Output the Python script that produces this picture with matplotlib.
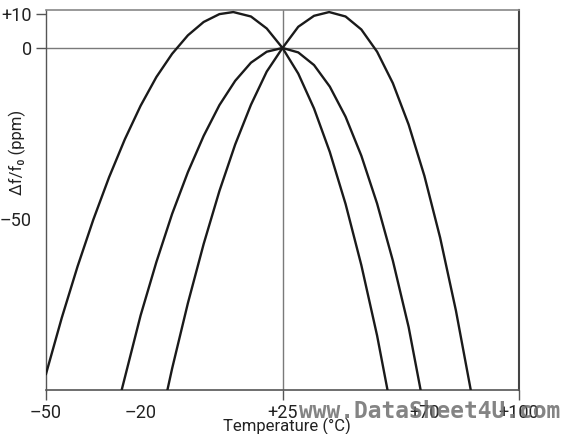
import matplotlib
matplotlib.use('Agg')
import matplotlib.pyplot as plt
from matplotlib import font_manager

names = {f.name for f in font_manager.fontManager.ttflist}
narrow = [n for n in ['Liberation Sans Narrow', 'DejaVu Sans Condensed'] if n in names]
plt.rcParams['font.family'] = narrow + ['Roboto', 'DejaVu Sans']
plt.rcParams['font.stretch'] = 'condensed'

# values (temperature in degC, deviation in ppm)
a_temp = [-50, -45, -40, -35, -30, -25, -20, -15, -10, -5, 0, 5, 9.4,
          15, 20, 25, 30, 35, 40, 45, 50, 55, 58.3]
a_ppm = [-95.3, -78.9, -63.9, -50.2, -37.8, -26.7, -16.9, -8.5, -1.7, 3.7, 7.6, 9.9, 10.5,
         9.2, 5.7, 0.0, -7.5, -17.7, -30.4, -45.6, -63.5, -84.1, -100.0]

b_temp = [-11.5, -10, -5, 0, 5, 10, 15, 20, 25, 30, 35, 39.8,
          45, 50, 55, 60, 65, 70, 75, 80, 84.7]
b_ppm = [-100.0, -93.7, -74.6, -57.3, -41.8, -28.2, -16.6, -6.9, 0.0, 6.2, 9.4, 10.5,
         9.2, 5.4, -1.1, -10.3, -22.4, -37.4, -55.5, -76.8, -100.0]

c_temp = [-26, -20, -15, -10, -5, 0, 5, 10, 15, 20, 25,
          30, 35, 40, 45, 50, 55, 60, 65, 68.8]
c_ppm = [-100.0, -78.2, -62.6, -48.5, -36.3, -25.7, -16.7, -9.6, -4.3, -1.1, 0.0,
         -1.3, -5.0, -11.3, -20.1, -31.5, -45.5, -62.2, -81.6, -100.0]

x_ticks = [-50, -20, 25, 70, 100]
x_labels = ['\u201350', '\u201320', '+25', '+70', '+100']
y_ticks = [10, 0, -50]
y_labels = ['+10', '0', '\u201350']

fig = plt.figure(figsize=(5.74, 4.34), dpi=100)
ax = fig.add_axes([46 / 574, 1 - 390 / 434, 473 / 574, 380 / 434])

ax.axhline(0, color='#7a7a7a', lw=1.0, zorder=1)
ax.axvline(25, color='#7a7a7a', lw=1.0, zorder=1)

for t, p in [(a_temp, a_ppm), (b_temp, b_ppm), (c_temp, c_ppm)]:
    ax.plot(t, p, color='#1a1a1a', lw=1.7, solid_joinstyle='round', zorder=3)

ax.set_xlim(-50, 100)
ax.set_ylim(-100, 11.1)

ax.set_xticks(x_ticks)
ax.set_xticklabels(x_labels, fontsize=13, color='#222222')
ax.set_yticks(y_ticks)
ax.set_yticklabels(y_labels, fontsize=13, color='#222222')
ax.tick_params(direction='out', length=7, width=1.0, color='#555555', pad=3)

# only some of the ticks carry a mark
for tk, v in zip(ax.xaxis.get_major_ticks(), x_ticks):
    if v in (-20, 70):
        tk.tick1line.set_markersize(0)
for tk, v in zip(ax.yaxis.get_major_ticks(), y_ticks):
    if v == -50:
        tk.tick1line.set_markersize(0)

ax.spines['top'].set_color('#888888')
ax.spines['top'].set_linewidth(1.2)
ax.spines['right'].set_color('#444444')
ax.spines['right'].set_linewidth(1.5)
ax.spines['left'].set_color('#555555')
ax.spines['left'].set_linewidth(1.0)
ax.spines['bottom'].set_color('#555555')
ax.spines['bottom'].set_linewidth(1.2)

ax.set_xlabel('Temperature (\u00b0C)', fontsize=12, color='#222222', labelpad=0)
ax.xaxis.set_label_coords(0.51, -0.074)
ax.set_ylabel('\u0394f/f\u2080 (ppm)', fontsize=12, color='#222222')
ax.yaxis.set_label_coords(-0.042, 0.626)

fig.text(430 / 574, 1 - 412 / 434, 'www.DataSheet4U.com', fontsize=16.5,
         family='DejaVu Sans Mono', weight='bold', color='#6e6e6e', alpha=0.85,
         ha='center', va='center')

fig.savefig('out.png', dpi=100)
